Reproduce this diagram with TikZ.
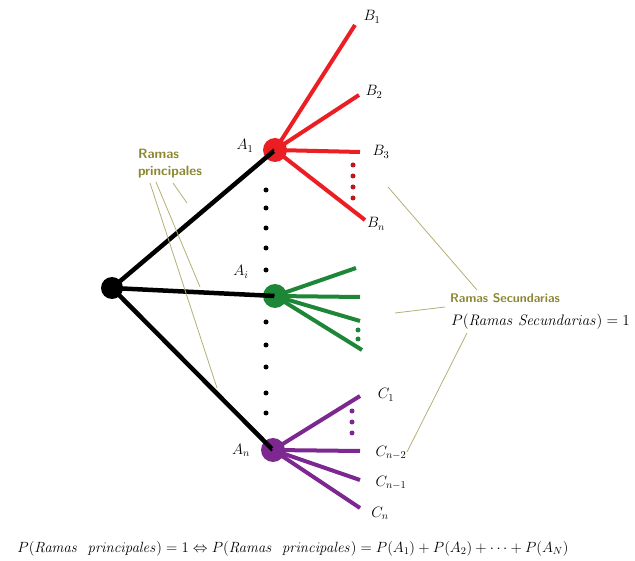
\RequirePackage{fix-cm}
\documentclass[tikz,border=0pt]{standalone}
\usepackage{amsmath}
\begin{document}
\begin{tikzpicture}[x=1pt,y=-1pt,
  every node/.style={inner sep=0pt},
  blk/.style={draw=black,line width=4.5pt},
  redb/.style={draw=myred,line width=4pt},
  greenb/.style={draw=mygreen,line width=4pt},
  purpb/.style={draw=mypurple,line width=4pt},
  hub/.style={circle,minimum size=24pt,fill=#1},
  lbl/.style={font=\fontsize{15}{18}\selectfont},
  vdot/.style={circle,fill=black,minimum size=5pt},
  cdot/.style={circle,fill=#1,minimum size=5pt},
  leader/.style={draw=leadc,line width=0.8pt},
  olive/.style={text=olivec,font=\sffamily\bfseries\fontsize{12.5}{17}\selectfont,align=left}
]
\definecolor{myred}{RGB}{235,30,35}
\definecolor{mygreen}{RGB}{30,135,55}
\definecolor{mypurple}{RGB}{125,40,145}
\definecolor{olivec}{RGB}{140,135,50}
\definecolor{leadc}{RGB}{180,175,120}
\useasboundingbox (0,0) rectangle (635,561);

% hubs
\node[hub=black,minimum size=22pt] (root) at (112,288) {};
\node[hub=myred] (a1) at (275,150) {};
\node[hub=mygreen] (ai) at (275,296) {};
\node[hub=mypurple] (an) at (273,450) {};

% main branches
\draw[blk] (root.center) -- (a1.center);
\draw[blk] (root.center) -- (ai.center);
\draw[blk] (root.center) -- (an.center);

% red branch ends
\coordinate (b1) at (355,25);
\coordinate (b2) at (359,95);
\coordinate (b3) at (360,152);
\coordinate (bn) at (365,220);
\foreach \e in {b1,b2,b3,bn} \draw[redb] (a1.center) -- (\e);
\foreach \yy in {165,176,187,198} \node[cdot=myred!80!black] at (353,\yy) {};

% green branch ends
\coordinate (g1) at (356,268);
\coordinate (g2) at (360,297);
\coordinate (g3) at (360,321);
\coordinate (g4) at (362,350);
\foreach \e in {g1,g2,g3,g4} \draw[greenb] (ai.center) -- (\e);
\foreach \yy in {330,339} \node[cdot=mygreen] at (358,\yy) {};

% purple branch ends
\coordinate (c1) at (360,396);
\coordinate (c2) at (360,451);
\coordinate (c3) at (360,480);
\coordinate (c4) at (360,508);
\foreach \e in {c1,c2,c3,c4} \draw[purpb] (an.center) -- (\e);
\foreach \yy in {411,422,433} \node[cdot=mypurple] at (352,\yy) {};

% vertical dots
\foreach \yy in {190,208,228,248,270,322,345,367,393,413} \node[vdot] at (266,\yy) {};

% labels
\node[lbl] (la1) at (245,146) {$A_1$};
\node[lbl] (lai) at (241,272) {$A_i$};
\node[lbl] (lan) at (241,450) {$A_n$};
\node[lbl] (lb1) at (372,17) {$B_1$};
\node[lbl] (lb2) at (374,92) {$B_2$};
\node[lbl] (lb3) at (381,152) {$B_3$};
\node[lbl] (lbn) at (376,224) {$B_n$};
\node[lbl] (lc1) at (386,395) {$C_1$};
\node[lbl] (lc2) at (391,453) {$C_{n-2}$};
\node[lbl] (lc3) at (391,483) {$C_{n-1}$};
\node[lbl] (lc4) at (380,513) {$C_n$};

% Ramas principales
\node[olive,font=\sffamily\bfseries\fontsize{13.5}{17}\selectfont] (rp) at (170,164) {Ramas\\principales};
\coordinate (rp1) at (150,183);
\coordinate (rp2) at (156,182);
\coordinate (rp3) at (173,183);
\coordinate (rpe1) at (217,388);
\coordinate (rpe2) at (200,287);
\coordinate (rpe3) at (187,203);
\draw[leader] (rp1) -- (rpe1);
\draw[leader] (rp2) -- (rpe2);
\draw[leader] (rp3) -- (rpe3);

% Ramas secundarias
\node[olive,anchor=west] (rs) at (450,298) {Ramas Secundarias};
\node[anchor=west,font=\fontsize{15.2}{18}\selectfont] (prs) at (451,322) {$P(\mathit{Ramas\ Secundarias})=1$};
\coordinate (s1a) at (388,187);
\coordinate (s1b) at (477,290);
\coordinate (s2a) at (395,313);
\coordinate (s2b) at (445,307);
\coordinate (s3a) at (467,333);
\coordinate (s3b) at (407,452);
\draw[leader] (s1a) -- (s1b);
\draw[leader] (s2a) -- (s2b);
\draw[leader] (s3a) -- (s3b);

% bottom formula
\node[font=\fontsize{14.8}{17}\selectfont] (formula) at (293,549)
  {$P(\mathit{Ramas\ \ principales})=1\Leftrightarrow P(\mathit{Ramas\ \ principales})=P(A_1)+P(A_2)+\cdots+P(A_N)$};
\end{tikzpicture}
\end{document}
